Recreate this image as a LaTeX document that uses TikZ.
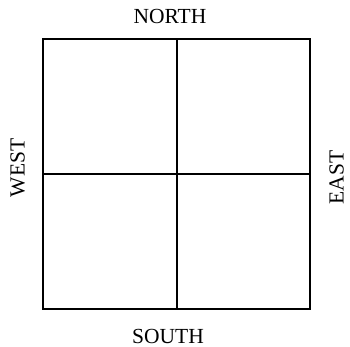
\documentclass[tikz,border=0pt]{standalone}
\usepackage{fontspec}
\setmainfont{Liberation Serif}
\usepackage{tikz}
\usetikzlibrary{positioning}

\begin{document}
\begin{tikzpicture}[x=1pt, y=1pt, every node/.style={font=\fontsize{21.5}{24}\selectfont},
  board/.style={draw, line width=2pt, minimum width=267pt, minimum height=270pt, inner sep=0pt},
  divider/.style={line width=2pt},
  side/.style={inner sep=0pt, text height=14pt, text depth=0pt}]
\useasboundingbox (0,0) rectangle (350,347);
\node[board] (grid) at (176.5,172.5) {};
\coordinate (vtop) at (177,307.5);
\coordinate (vbot) at (177,37.5);
\draw[divider] (vtop) -- (vbot);
\draw[divider] (grid.west) -- (grid.east);
\node[side] (north) at (170,330) {NORTH};
\node[side] (south) at (168,10.5) {SOUTH};
\node[side, rotate=90] (west) at (17.5,179) {WEST};
\node[side, rotate=90] (east) at (336.5,169.5) {EAST};
\end{tikzpicture}
\end{document}
